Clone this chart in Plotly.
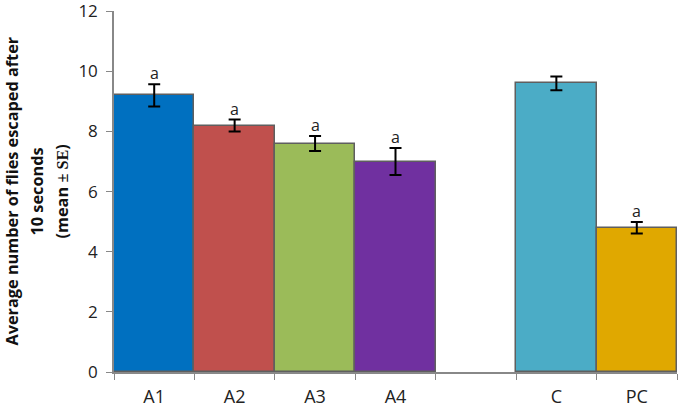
import plotly.graph_objects as go

categories = ["A1", "A2", "A3", "A4", " ", "C", "PC"]
bar_categories = ["A1", "A2", "A3", "A4", "C", "PC"]
means = [9.2, 8.2, 7.6, 7.0, 9.6, 4.8]
se = [0.37, 0.2, 0.25, 0.45, 0.23, 0.19]
letters = ["a", "a", "a", "a", "", "a"]
colors = ["#0070C0", "#C0504D", "#9BBB59", "#7030A0", "#4BACC6", "#E0A800"]
y_ticks = [0, 2, 4, 6, 8, 10, 12]
title_lines = [
    "<b>Average number of flies escaped after</b>",
    "<b>10 seconds</b>",
    "<b>(mean <span style='font-family:Liberation Serif'>± SE</span>)</b>",
]

FONT = "Open Sans, Liberation Sans, sans-serif"

fig = go.Figure()
fig.add_trace(go.Bar(
    x=bar_categories, y=means,
    marker=dict(color=colors, line=dict(color="#5f5f5f", width=1.5)),
    width=1.0,
    error_y=dict(type="data", array=se, visible=True, color="black", thickness=2, width=6),
    showlegend=False,
))

for c, m, s, l in zip(bar_categories, means, se, letters):
    if l:
        fig.add_annotation(x=c, y=m + s, text=l, showarrow=False, yanchor="bottom", yshift=-2,
                           font=dict(family=FONT, size=16, color="#222"))

# y-axis title lines
for txt, px in zip(title_lines, [11, 36, 61]):
    fig.add_annotation(xref="paper", yref="paper", x=0, y=0.5, xanchor="center", yanchor="middle",
                       xshift=px - 114, text=txt, textangle=-90, showarrow=False,
                       font=dict(family=FONT, size=16.3, color="#111"))

fig.update_layout(
    width=685, height=408,
    margin=dict(l=114, r=8, t=11, b=36),
    paper_bgcolor="white", plot_bgcolor="white",
    bargap=0,
    font=dict(family=FONT, size=14, color="#222"),
)
fig.update_xaxes(
    type="category", categoryorder="array", categoryarray=categories,
    range=[-0.5, 6.5], showline=True, linecolor="#888", linewidth=1.5,
    ticks="outside", tickson="boundaries", ticklen=6, tickcolor="#888",
    showgrid=False, tickfont=dict(size=18, color="#222"), automargin=False,
    ticklabelstandoff=8, ticklabeloverflow="allow",
)
fig.update_yaxes(
    range=[0, 12.01], tickvals=y_ticks, showline=True, linecolor="#888", linewidth=1.5,
    ticks="outside", ticklen=6, tickcolor="#888", showgrid=False, zeroline=False,
    tickfont=dict(size=17, color="#222"), automargin=False, ticklabelstandoff=5,
    ticklabeloverflow="allow",
)
fig.write_html("out.html", config={"displayModeBar": False},
               post_script="document.body.style.margin='0';")
